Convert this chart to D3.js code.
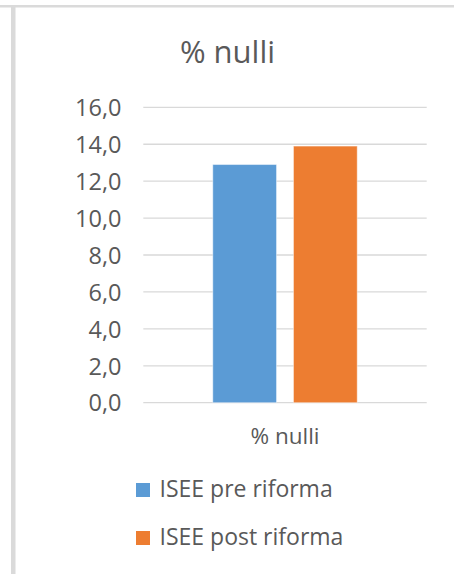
<!DOCTYPE html>
<html>
<head>
<meta charset="utf-8">
<script src="https://cdn.jsdelivr.net/npm/d3@7"></script>
<style>
  html, body { margin: 0; padding: 0; background: #fff; }
  svg { display: block; }
  text { font-family: "Open Sans", sans-serif; fill: #595959; }
</style>
</head>
<body>
<script>
const title = "% nulli";
const categories = ["% nulli"];
const seriesNames = ["ISEE pre riforma", "ISEE post riforma"];
const seriesColors = ["#5B9BD5", "#ED7D31"];
const preValues = [12.9];
const postValues = [13.9];
const yTicks = [0, 2, 4, 6, 8, 10, 12, 14, 16];

const W = 454, H = 574;
const svg = d3.select("body").append("svg").attr("width", W).attr("height", H);

// frame lines
svg.append("rect").attr("x", 0).attr("y", 5).attr("width", W).attr("height", 2.5).attr("fill", "#dadada");
svg.append("rect").attr("x", 11).attr("y", 7).attr("width", 4.5).attr("height", H - 7).attr("fill", "#dadada");

const plotL = 143.3, plotR = 426.7, plotT = 107.3, plotB = 402.7;
const y = d3.scaleLinear().domain([0, 16]).range([plotB, plotT]);
const x0 = d3.scaleBand().domain(categories).range([plotL, plotR]).paddingInner(0).paddingOuter(0.481);
const x1 = d3.scaleBand().domain(seriesNames).range([0, x0.bandwidth()]).paddingInner(0.21).paddingOuter(0);
const fmt = v => d3.format(".1f")(v).replace(".", ",");

// gridlines
svg.append("g").selectAll("line").data(yTicks).join("line")
  .attr("x1", plotL).attr("x2", plotR)
  .attr("y1", d => y(d)).attr("y2", d => y(d))
  .attr("stroke", "#d9d9d9").attr("stroke-width", 1.3);

// y axis labels
const yAxis = d3.axisLeft(y).tickValues(yTicks).tickFormat(fmt).tickSize(0).tickPadding(0);
const ya = svg.append("g").attr("transform", "translate(121.5,0)").call(yAxis);
ya.select(".domain").remove();
ya.selectAll("text").attr("font-size", "23.5px").attr("font-family", "Open Sans, sans-serif")
  .attr("fill", "#595959").attr("dy", "0.35em");

// bars
const rows = categories.map((c, i) => ({ cat: c, vals: [preValues[i], postValues[i]] }));
const grp = svg.append("g").selectAll("g").data(rows).join("g")
  .attr("transform", d => `translate(${x0(d.cat)},0)`);
grp.selectAll("rect").data(d => d.vals.map((v, j) => ({ name: seriesNames[j], v, color: seriesColors[j] })))
  .join("rect")
  .attr("x", d => x1(d.name)).attr("width", x1.bandwidth())
  .attr("y", d => y(d.v)).attr("height", d => y(0) - y(d.v))
  .attr("fill", d => d.color)
  .attr("stroke", "rgba(255,255,255,0.45)").attr("stroke-width", 1);

// x axis category labels
const xAxis = d3.axisBottom(x0).tickSize(0).tickPadding(0);
const xa = svg.append("g").attr("transform", "translate(0,444)").call(xAxis);
xa.select(".domain").remove();
xa.selectAll("text").attr("font-size", "22.5px").attr("font-family", "Open Sans, sans-serif")
  .attr("fill", "#595959").attr("dy", 0);

// title
svg.append("text").attr("x", 227.5).attr("y", 63).attr("text-anchor", "middle")
  .attr("font-size", "31px").text(title);

// legend
const leg = svg.append("g").selectAll("g").data(seriesNames).join("g")
  .attr("transform", (d, i) => `translate(136,${483 + i * 48})`);
leg.append("rect").attr("width", 14).attr("height", 14).attr("fill", (d, i) => seriesColors[i]);
leg.append("text").attr("x", 23.5).attr("y", 14).attr("font-size", "23px").text(d => d);
</script>
</body>
</html>
